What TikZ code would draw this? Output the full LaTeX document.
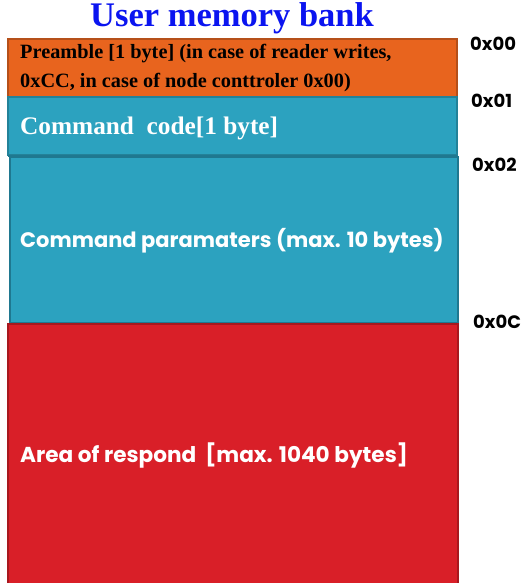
\documentclass[tikz,border=0pt]{standalone}
\usepackage{fontspec}
\setmainfont{Liberation Serif}
\newfontfamily\geo{Poppins}
\definecolor{orangefill}{HTML}{E8641E}
\definecolor{orangeline}{HTML}{B5501A}
\definecolor{tealfill}{HTML}{2CA2BF}
\definecolor{tealline}{HTML}{1F7890}
\definecolor{redfill}{HTML}{D91F28}
\definecolor{redline}{HTML}{A8181E}
\definecolor{titleblue}{HTML}{0A14F0}
\tikzset{
  block/.style={line width=1.2pt},
  addr/.style={anchor=west, inner sep=0pt, font=\geo\bfseries\fontsize{18}{20}\selectfont},
  seriflabel/.style={anchor=west, inner sep=0pt, font=\bfseries},
  sanslabel/.style={anchor=west, inner sep=0pt, text=white}
}
\begin{document}
\begin{tikzpicture}[x=1pt,y=-1pt]
\useasboundingbox (0,0) rectangle (520,583);
\fill[white] (0,0) rectangle (520,583);
\node[inner sep=0pt, text=titleblue, font=\bfseries\fontsize{34.5}{36}\selectfont] (title) at (232,18) {User memory bank};
\draw[block, fill=orangefill, draw=orangeline] (8,39) rectangle (457,97);
\draw[block, fill=tealfill, draw=tealfill!80!black] (8,97) rectangle (457,155);
\draw[line width=2pt, tealline] (8,155.5) -- (457,155.5);
\draw[block, fill=tealfill, draw=tealline] (10,157) rectangle (458,323);
\draw[block, fill=redfill, draw=redline] (8,324) rectangle (458,590);
\node[seriflabel, font=\bfseries\fontsize{20.3}{30}\selectfont] (pre1) at (20,54) {Preamble [1 byte] (in case of reader writes,};
\node[seriflabel, font=\bfseries\fontsize{20.3}{30}\selectfont] (pre2) at (20,83) {0xCC, in case of node conttroler 0x00)};
\node[seriflabel, text=white, font=\bfseries\fontsize{25.3}{28}\selectfont] (cmd) at (20,128) {Command\ \ code[1 byte]};
\node[sanslabel, font=\geo\bfseries\fontsize{21}{24}\selectfont] (par) at (20,241) {Command paramaters (max. 10 bytes)};
\node[sanslabel, font=\geo\bfseries\fontsize{21.6}{24}\selectfont] (area) at (20,456) {Area of respond\ \ [max. 1040 bytes]};
\node[addr] (a0) at (470,44) {0x00};
\node[addr] (a1) at (471,101) {0x01};
\node[addr] (a2) at (472,165) {0x02};
\node[addr] (a3) at (473,322) {0x0C};
\end{tikzpicture}
\end{document}
